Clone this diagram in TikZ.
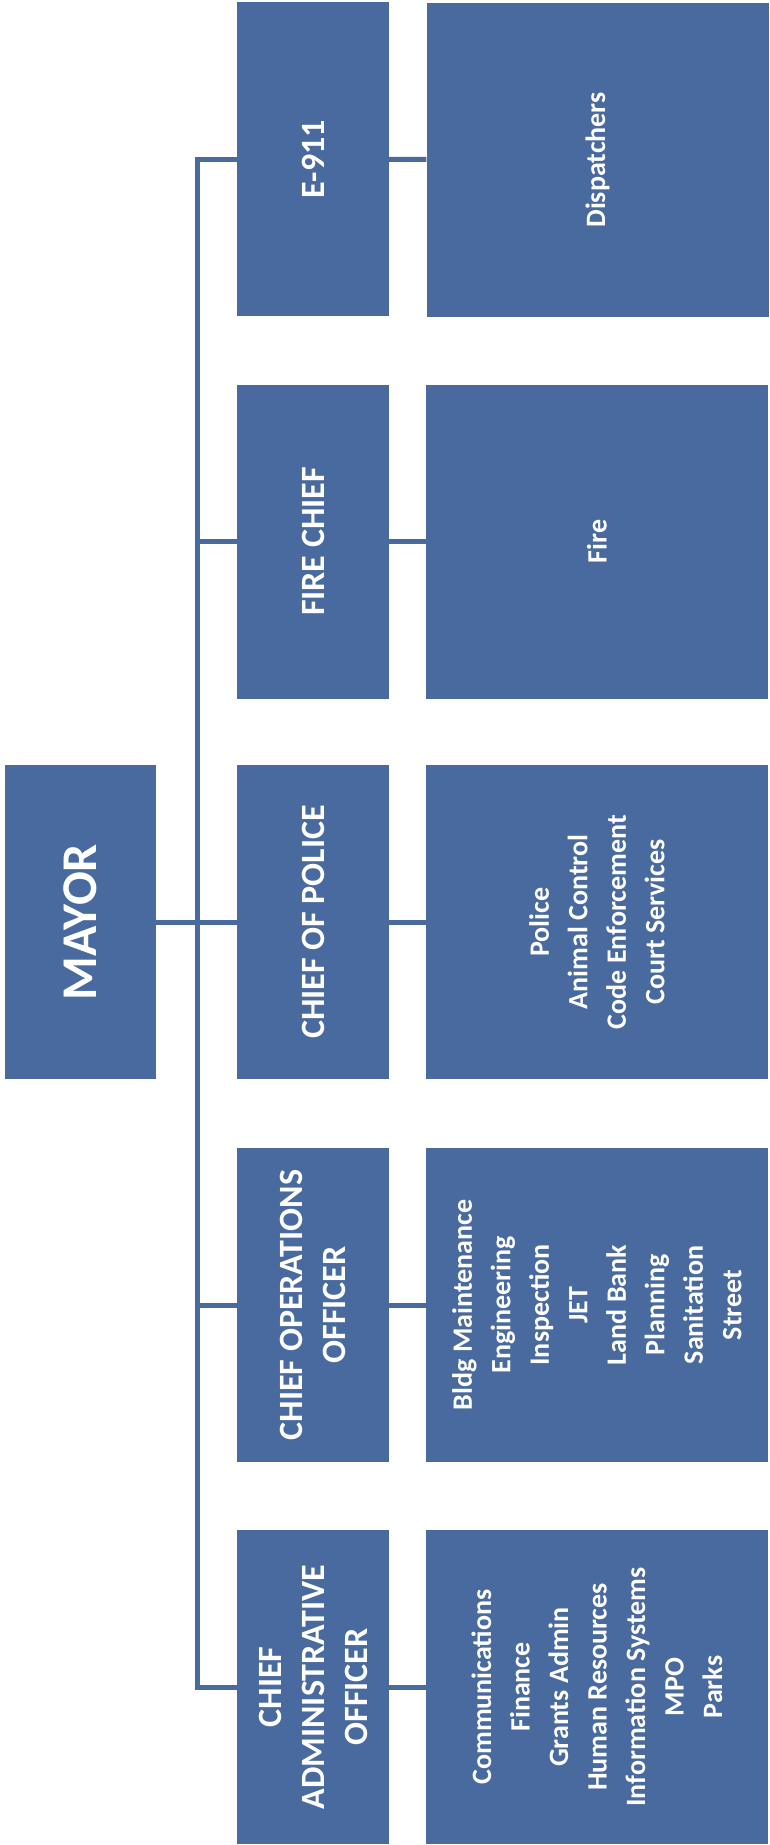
\documentclass[tikz,border=0pt]{standalone}
\usepackage{fontspec}
\setmainfont{Carlito}
\definecolor{boxblue}{RGB}{72,106,158}
\begin{document}
\begin{tikzpicture}[x=1pt,y=-1pt,
  box/.style={draw=none,fill=boxblue,text=white,rotate=90,align=center,inner sep=0pt,font=\bfseries},
  top/.style={box,minimum width=314pt,minimum height=151pt,font=\bfseries\fontsize{50}{60}\selectfont},
  chief/.style={box,minimum width=314pt,minimum height=152pt,font=\bfseries\fontsize{34}{43}\selectfont},
  dept/.style={box,minimum width=314pt,minimum height=342pt,font=\bfseries\fontsize{28}{38.5}\selectfont},
  conn/.style={draw=boxblue,line width=5pt}]
\useasboundingbox[fill=white] (0,0) rectangle (770,1845);
% mayor
\node[top] (mayor) at (80.5,922) {MAYOR};
% chiefs
\node[chief] (e911) at (313,159) {E-911};
\node[chief] (fire) at (313,541.5) {FIRE CHIEF};
\node[chief] (police) at (313,922) {CHIEF OF POLICE};
\node[chief] (ops) at (313,1305) {CHIEF OPERATIONS\\OFFICER};
\node[chief] (admin) at (313,1687) {CHIEF\\ADMINISTRATIVE\\OFFICER};
% departments
\node[dept] (disp) at (597.5,160) {Dispatchers};
\node[dept] (firedept) at (597,541.5) {Fire};
\node[dept] (policedept) at (597,922) {Police\\Animal Control\\Code Enforcement\\Court Services};
\node[dept] (opsdept) at (597,1305) {Bldg Maintenance\\Engineering\\Inspection\\JET\\Land Bank\\Planning\\Sanitation\\Street};
\node[dept] (admindept) at (597,1687) {Communications\\Finance\\Grants Admin\\Human Resources\\Information Systems\\MPO\\Parks};
% junctions on the vertical line
\coordinate (j1) at (197,159);
\coordinate (j2) at (197,541.5);
\coordinate (j3) at (197,922);
\coordinate (j4) at (197,1305);
\coordinate (j5) at (197,1687);
\draw[conn,line cap=rect] (j1) -- (j5);
\draw[conn] (mayor) -- (police);
\draw[conn] (j1) -- (e911);
\draw[conn] (j2) -- (fire);
\draw[conn] (j4) -- (ops);
\draw[conn] (j5) -- (admin);
\draw[conn] (e911) -- (disp);
\draw[conn] (fire) -- (firedept);
\draw[conn] (police) -- (policedept);
\draw[conn] (ops) -- (opsdept);
\draw[conn] (admin) -- (admindept);
\end{tikzpicture}
\end{document}
